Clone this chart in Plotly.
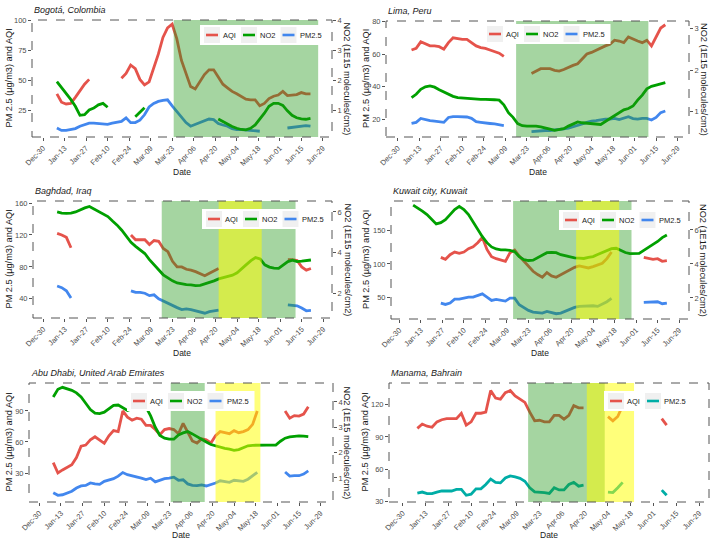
import pandas as pd
import plotly.graph_objects as go

W, H = 712, 544
N = None

# ---------------- data (3-day grid, 2020-01-08 .. 2020-06-21) ----------------
DATES = pd.date_range("2020-01-08", periods=56, freq="3D")
TICK_DATES = [d.strftime("%Y-%m-%d") for d in pd.date_range("2019-12-30", periods=14, freq="14D")]
TICK_TEXT = ["Dec-30", "Jan-13", "Jan-27", "Feb-10", "Feb-24", "Mar-09", "Mar-23",
             "Apr-06", "Apr-20", "May-04", "May-18", "Jun-01", "Jun-15", "Jun-29"]

bog_aqi = [39, 32, 30.5, 31, 36, 42, 47, 51] + [N] * 6 + [
    52, 56, 63, 60, 51, 46.5, 49, 60, 72, 86, 94, 97, 85, 67, 56, 45, 43, 49, 55, 59, 59,
    53, 47, 44, 41, 39, 37, 34.5, 34, 34, 29, 31, 35, 37, 38, 41, 37.5, 38, 38.3, 40, 39, 39]
bog_no2 = [1.97, 1.78, 1.58, 1.38, 1.15, 0.85, 0.87, 1.03, 1.09, 1.2, 1.25, 1.12] + [N] * 5 + [
    0.8, 0.95, 1.1] + [N] * 15 + [
    0.73, 0.65, 0.55, 0.48, 0.42, 0.38, 0.37, 0.42, 0.53, 0.72, 0.92, 1.15, 1.25, 1.25, 1.18,
    1.0, 0.85, 0.77, 0.73, 0.72, 0.75]
bog_pm25 = [10.5, 8.5, 8.5, 9, 10, 12, 13.5, 14.5, 14.5, 14, 13.5, 13.5, 14.5, 15, 16, 19, 15,
            15, 17, 21.5, 28, 31, 32.7, 33.5, 34, 29, 24, 19, 15, 12, 13.5, 15, 17, 18, 17.5,
            14.2, 13, 12, 10, 9.2, 9.2, 8.9, 8.7, 8.6, 7.8] + [N] * 5 + [10.5, 11, 11.5, 12, 12.5, 12]

lim_aqi = [62.5, 63.5, 67.5, 66, 65, 65, 64.5, 63, 67, 70, 69.5, 69, 69, 67, 65, 64, 63.5, 62.5,
           61.5, 60.5, 58.5] + [N] * 5 + [
    48, 49.5, 51, 51, 51, 50, 49.5, 50.5, 52, 53, 54, 57, 60, 61, 62.5, 63.5, 65, 66, 68.5, 68,
    67, 70.5, 69, 68, 67, 68.5, 65, 71, 76, 78]
lim_no2 = [1.34, 1.42, 1.54, 1.6, 1.62, 1.59, 1.53, 1.47, 1.43, 1.37,
           1.34, 1.33, 1.32, 1.31, 1.3, 1.3, 1.3, 1.3, 1.29, 1.28,
           1.17, 0.98, 0.87, 0.72, 0.67, 0.66, 0.66, 0.66, 0.64, 0.62,
           0.59, 0.56, 0.58, 0.6, 0.66, 0.72, 0.76, 0.74, 0.73, 0.72,
           0.71, 0.7, 0.77, 0.84, 0.92, 1.0, 1.05, 1.08, 1.14, 1.28,
           1.4, 1.55, 1.61, 1.64, 1.67, 1.7]
lim_pm25 = [17.4, 18, 20.4, 19.5, 19, 18.8, 18.6, 18, 21, 21.5, 21.5, 21.5, 21.3, 20.5, 18.4, 18,
            17.5, 17.3, 17, 16.5, 16] + [N] * 5 + [
    12.3, 12.6, 13, 13, 13, 13.2, 13.4, 14, 14.5, 15.2, 16, 17, 18, 18.8, 19, 19.5, 20, 20,
    20.4, 19.7, 20.5, 21.5, 20.3, 20, 20.4, 20.4, 19.4, 21, 24, 25]

bag_aqi = [122, 120, 117, 104] + [N] * 12 + [
    120, 114, 114, 114, 108, 113, 112, 103, 99, 87, 80, 80, 77, 76, 74, 71, 69, 72, 75, 78] + [N] * 14 + [
    89, 89, 88, 80, 76, 78]
bag_no2 = [6.0, 5.94, 5.93, 5.94, 6.0, 6.12, 6.2, 6.27, 6.15, 6.03,
           5.9, 5.77, 5.55, 5.35, 5.1, 4.78, 4.5, 4.3, 4.12, 3.95,
           3.65, 3.4, 3.18, 2.9, 2.75, 2.6, 2.5, 2.45, 2.42, 2.4,
           2.37, 2.38, 2.45, 2.5, 2.6, 2.7, 2.75, 2.8, 2.88, 3.0,
           3.22, 3.4, 3.6, 3.75, 3.68, 3.39, 3.28, 3.23, 3.22, 3.4,
           3.55, 3.62, 3.55, 3.57, 3.6, 3.63]
bag_pm25 = [56, 54, 50, 41] + [N] * 12 + [
    50, 48, 48, 47, 44, 45, 40, 37, 34, 31, 29, 26.5, 27.5, 26.5, 25, 24, 22, 24, 25, 26] + [N] * 14 + [
    32.5, 32, 31.3, 28.4, 25, 25.5]

kuw_aqi = [N] * 6 + [
    110, 107, 114, 118, 116, 118, 123, 126, 132, 140, 122, 111, 108, 106, 104, 117, 121, 112,
    104, 96, 89, 84, 80, 87, 82, 80, 84, 87, 91, 95, 97, 96, 94, 96, 99, 101, 108, 118] + [N] * 6 + [
    110, 108, 107, 108, 104, 105]
kuw_no2 = [7.46, 7.3, 7.1, 6.9, 6.6, 6.35, 6.43, 6.6, 6.9, 7.2,
           7.38, 7.2, 6.9, 6.45, 6.0, 5.6, 5.25, 5.0, 4.88, 4.83,
           4.83, 4.8, 4.72, 4.42, 4.25, 4.2, 4.22, 4.38, 4.5, 4.66,
           4.67, 4.66, 4.54, 4.48, 4.41, 4.36, 4.34, 4.32, 4.38, 4.43,
           4.55, 4.68, 4.8, 4.9, 4.92, 4.79, 4.67, 4.6, 4.6, 4.62,
           4.8, 5.0, 5.15, 5.32, 5.55, 5.7]
kuw_pm25 = [N] * 6 + [
    41, 39, 41, 47, 47, 48.5, 50, 50, 52, 55, 50, 45, 46.5, 45, 44, 48.5, 48.5, 38.5, 34, 30,
    27.5, 26.5, 26, 28.5, 26.5, 25, 26, 29, 32, 34.5, 36, 36.5, 37, 37, 36, 39, 43, 48] + [N] * 6 + [
    42, 42, 42, 43, 40, 41]

abu_aqi = [40, 30, 33, 35.5, 38, 45, 56, 57, 62, 65, 62, 58.7, 66, 71, 70, 90, 84, 81, 83, 82,
           76, 76, 72, 67, 72, 73, 72, 68, 78, 69, 61, 59, 63, 62, 59, 66, 70, 69, 68, 71,
           69, 70, 72, 77, 90] + [N] * 5 + [90, 83, 85.5, 85, 87, 94]
abu_no2 = [4.2, 4.5, 4.58, 4.52, 4.46, 4.36, 4.2, 3.95, 3.7, 3.56,
           3.54, 3.6, 3.72, 3.87, 3.88, 3.78, 3.67, 3.74, 3.78, 3.8,
           3.8, 3.45, 3.0, 2.68, 2.57, 2.53, 2.53, 2.7, 2.78, 2.83,
           2.74, 2.63, 2.5, 2.42, 2.32, 2.26, 2.2, 2.17, 2.14, 2.09,
           2.12, 2.18, 2.27, 2.29, 2.3, 2.3, 2.3, 2.3, 2.3, 2.45,
           2.57, 2.62, 2.65, 2.66, 2.65, 2.63]
abu_pm25 = [11, 8.5, 9, 11, 12.4, 15.5, 17.5, 18, 20.4, 19.5, 19, 22, 23.5, 24.5, 27, 30.5,
            28.4, 27.5, 26.5, 25, 23.6, 25, 21.5, 23, 24.5, 25, 26, 23, 23.5, 19.5, 18, 17.8,
            18.5, 17.5, 18.8, 20.4, 22.5, 22, 21, 23, 22.5, 22, 24, 27, 30.6] + [N] * 5 + [
    31, 27, 27.4, 27.4, 29, 32]

man_aqi = [98, 102, 100, 99, 104, 106, 107, 107, 107, 112, 101, 104, 112, 112, 113, 133, 126,
           125, 131, 133, 128, 125, 122, 113, 105, 105.5, 104, 104, 110, 110, 106.5, 110, 119,
           117, 117] + [N] * 4 + [108.8, 105, 109, 119] + [N] * 7 + [107, 101] + [N] * 4
man_pm25 = [38, 39, 37.5, 37.5, 39, 40, 40, 40, 41.5, 41.5, 36, 37, 42, 42, 46, 51, 48, 47.5,
            52, 54, 53, 51.7, 49, 43, 39.2, 39, 38.5, 37.7, 43, 41, 41, 46, 48, 44.5,
            45.4] + [N] * 4 + [39, 38.5, 43, 48] + [N] * 7 + [40.8, 36] + [N] * 4

# lockdown periods (green) and partial easing periods (yellow)
bog_green = [("2020-03-24", "2020-06-26")]
lim_green = [("2020-03-16", "2020-06-10")]
bag_green = [("2020-03-16", "2020-06-11")]
bag_yellow = [("2020-04-22", "2020-05-20")]
kuw_green = [("2020-03-13", "2020-05-29")]
kuw_yellow = [("2020-04-23", "2020-05-21")]
abu_green = [("2020-03-24", "2020-04-15")]
abu_yellow = [("2020-04-22", "2020-05-21")]
man_green = [("2020-03-16", "2020-05-02")]
man_yellow = [("2020-04-21", "2020-05-20")]

# ---------------- styling ----------------
C_AQI = "#E5534B"
C_NO2 = "#00A000"
C_PM = "#4287EE"
C_PM_TEAL = "#00ADA6"
GREEN_FILL = "rgba(30,150,20,0.40)"
YELLOW_FILL = "rgba(255,255,0,0.52)"
FONT = "Liberation Sans, Arial, sans-serif"
TICKC = "#4D4D4D"

panels = [
    dict(title="Bogotá, Colombia", box=(32, 20, 332, 137), xpad=(-7.2, 188),
         yl=[3, 100.5], ylt=[25, 50, 75, 100], yr=[0.13, 4.02], yrt=[1, 2, 3, 4],
         series=[("AQI", bog_aqi, C_AQI, "l"), ("NO2", bog_no2, C_NO2, "r"), ("PM2.5", bog_pm25, C_PM, "l")],
         green=bog_green, yellow=[], leg=(200, 35), ylab=8, yrlab=347, datey=172),
    dict(title="Lima, Peru", box=(386, 21, 689, 137), xpad=(-7.6, 189.4),
         yl=[9, 80.3], ylt=[20, 40, 60, 80], yr=[0.4, 3.17], yrt=[1, 2, 3],
         series=[("AQI", lim_aqi, C_AQI, "l"), ("NO2", lim_no2, C_NO2, "r"), ("PM2.5", lim_pm25, C_PM, "l")],
         green=lim_green, yellow=[], leg=(483, 34), ylab=366, yrlab=704, datey=172),
    dict(title="Baghdad, Iraq", box=(33, 201, 332, 318), xpad=(-6.7, 187.7),
         yl=[16, 162.5], ylt=[40, 80, 120, 160], yr=[0.77, 6.54], yrt=[2, 4, 6],
         series=[("AQI", bag_aqi, C_AQI, "l"), ("NO2", bag_no2, C_NO2, "r"), ("PM2.5", bag_pm25, C_PM, "l")],
         green=bag_green, yellow=bag_yellow, leg=(202, 219), ylab=8, yrlab=348, datey=353),
    dict(title="Kuwait city, Kuwait", box=(391, 201, 689, 319), xpad=(-5.4, 188.4),
         yl=[17, 195], ylt=[50, 100, 150], yr=[0.76, 7.7], yrt=[2, 4, 6],
         series=[("AQI", kuw_aqi, C_AQI, "l"), ("NO2", kuw_no2, C_NO2, "r"), ("PM2.5", kuw_pm25, C_PM, "l")],
         green=kuw_green, yellow=kuw_yellow, leg=(559, 220), ylab=366, yrlab=703, datey=353),
    dict(title="Abu Dhabi, United Arab Emirates", box=(29, 383, 333, 502), xpad=(-6.7, 190),
         yl=[2, 117], ylt=[30, 60, 90], yr=[0.05, 4.75], yrt=[1, 2, 3, 4],
         series=[("AQI", abu_aqi, C_AQI, "l"), ("NO2", abu_no2, C_NO2, "r"), ("PM2.5", abu_pm25, C_PM, "l")],
         green=abu_green, yellow=abu_yellow, leg=(127, 401), ylab=8, yrlab=347, datey=535),
    dict(title="Manama, Bahrain", box=(389, 383, 709, 502), xpad=(-8.4, 188),
         yl=[29.8, 140], ylt=[30, 60, 90, 120], yr=None, yrt=None,
         series=[("AQI", man_aqi, C_AQI, "l"), ("PM2.5", man_pm25, C_PM_TEAL, "l")],
         green=man_green, yellow=man_yellow, leg=(604, 401), ylab=364, yrlab=None, datey=535),
]

TEXT_W = {"AQI": 13, "NO2": 15.5, "PM2.5": 22}

fig = go.Figure()
layout_axes = {}
shade_shapes, legend_shapes, border_shapes, annotations = [], [], [], []


def fx(px):
    return px / W


def fy(py):
    return 1 - py / H


base = pd.Timestamp("2019-12-30")
for k, p in enumerate(panels, start=1):
    s = "" if k == 1 else str(k)
    x0, y0, x1, y1 = p["box"]
    xd = [fx(x0), fx(x1)]
    yd = [fy(y1), fy(y0)]
    xr = [(base + pd.Timedelta(days=p["xpad"][0])).strftime("%Y-%m-%d %H:%M"),
          (base + pd.Timedelta(days=p["xpad"][1])).strftime("%Y-%m-%d %H:%M")]
    common = dict(showgrid=False, zeroline=False, showline=False, ticks="outside", ticklen=3,
                  tickwidth=1, tickcolor="#555555", tickfont=dict(size=7.5, color=TICKC, family=FONT),
                  automargin=False, fixedrange=True)
    layout_axes["xaxis" + s] = dict(domain=xd, anchor="y" + s, type="date", range=xr,
                                    tickmode="array", tickvals=TICK_DATES, ticktext=TICK_TEXT,
                                    tickangle=-45, **common)
    layout_axes["yaxis" + s] = dict(domain=yd, anchor="x" + s, range=p["yl"], tickmode="array",
                                    tickvals=p["ylt"], **common)
    r = None
    if p["yr"] is not None:
        r = str(6 + k)
        layout_axes["yaxis" + r] = dict(domain=yd, anchor="x" + s, overlaying="y" + s, side="right",
                                        range=p["yr"], tickmode="array", tickvals=p["yrt"], **common)
    for name, vals, color, ax in p["series"]:
        fig.add_trace(go.Scatter(x=DATES, y=vals, mode="lines", name=name,
                                 line=dict(color=color, width=2.8),
                                 xaxis="x" + s, yaxis=("y" + r) if ax == "r" else ("y" + s),
                                 showlegend=False, connectgaps=False, hoverinfo="skip"))
    # shaded periods (drawn above the lines, like the original)
    for a, b in p["green"]:
        shade_shapes.append(dict(type="rect", xref="x" + s, yref="y" + s + " domain", x0=a, x1=b,
                                 y0=0, y1=1, fillcolor=GREEN_FILL, line=dict(width=0), layer="above"))
    for a, b in p["yellow"]:
        shade_shapes.append(dict(type="rect", xref="x" + s, yref="y" + s + " domain", x0=a, x1=b,
                                 y0=0, y1=1, fillcolor=YELLOW_FILL, line=dict(width=0), layer="above"))
    # dashed panel border
    border_shapes.append(dict(type="rect", xref="x" + s + " domain", yref="y" + s + " domain",
                              x0=0, x1=1, y0=0, y1=1, line=dict(color="#555555", width=1, dash="dash"),
                              fillcolor="rgba(0,0,0,0)", layer="above"))
    # legend (manual)
    lx, lc = p["leg"]
    names = [sr[0] for sr in p["series"]]
    cols = [sr[2] for sr in p["series"]]
    cx = lx + 12
    items = []
    for nm, col in zip(names, cols):
        items.append((cx, nm, col))
        cx = cx + 10 + TEXT_W[nm] + 14
    right = items[-1][0] + 10 + TEXT_W[names[-1]] + 7
    legend_shapes.append(dict(type="rect", xref="paper", yref="paper", x0=fx(lx), x1=fx(right),
                              y0=fy(lc + 10), y1=fy(lc - 10), fillcolor="white",
                              line=dict(width=0), layer="above"))
    for kc, nm, col in items:
        legend_shapes.append(dict(type="rect", xref="paper", yref="paper", x0=fx(kc - 8), x1=fx(kc + 8),
                                  y0=fy(lc + 8), y1=fy(lc - 8), fillcolor="#F0F0F0",
                                  line=dict(width=0), layer="above"))
        legend_shapes.append(dict(type="line", xref="paper", yref="paper", x0=fx(kc - 6), x1=fx(kc + 6),
                                  y0=fy(lc), y1=fy(lc), line=dict(color=col, width=2.6), layer="above"))
        annotations.append(dict(text=nm, xref="paper", yref="paper", x=fx(kc + 9), y=fy(lc),
                                xanchor="left", yanchor="middle", showarrow=False,
                                font=dict(size=7.5, color="#1a1a1a", family=FONT)))
    # titles and axis titles
    annotations.append(dict(text="<i>" + p["title"] + "</i>", xref="paper", yref="paper",
                            x=fx(x0), y=fy(y0 - 10), xanchor="left", yanchor="middle",
                            showarrow=False, font=dict(size=9, color="#1a1a1a", family=FONT)))
    ymid = fy((y0 + y1) / 2)
    annotations.append(dict(text="PM 2.5 (µg/m3) and AQI", xref="paper", yref="paper",
                            x=fx(p["ylab"]), y=ymid, textangle=-90, xanchor="center", yanchor="middle",
                            showarrow=False, font=dict(size=9.2, color="#1a1a1a", family=FONT)))
    if p["yrlab"] is not None:
        annotations.append(dict(text="NO2 (1E15 molecules/cm2)", xref="paper", yref="paper",
                                x=fx(p["yrlab"]), y=ymid, textangle=90, xanchor="center",
                                yanchor="middle", showarrow=False,
                                font=dict(size=9.2, color="#1a1a1a", family=FONT)))
    annotations.append(dict(text="Date", xref="paper", yref="paper", x=fx((x0 + x1) / 2),
                            y=fy(p["datey"]), xanchor="center", yanchor="middle", showarrow=False,
                            font=dict(size=8.5, color="#1a1a1a", family=FONT)))

fig.update_layout(
    width=W, height=H, margin=dict(l=0, r=0, t=0, b=0),
    paper_bgcolor="white", plot_bgcolor="white", showlegend=False,
    font=dict(family=FONT, size=8, color="#1a1a1a"),
    shapes=shade_shapes + legend_shapes + border_shapes,
    annotations=annotations,
    **layout_axes,
)

fig.write_html("out.html", config={"displayModeBar": False, "staticPlot": True},
               post_script="document.body.style.margin='0px';document.body.style.padding='0px';")
